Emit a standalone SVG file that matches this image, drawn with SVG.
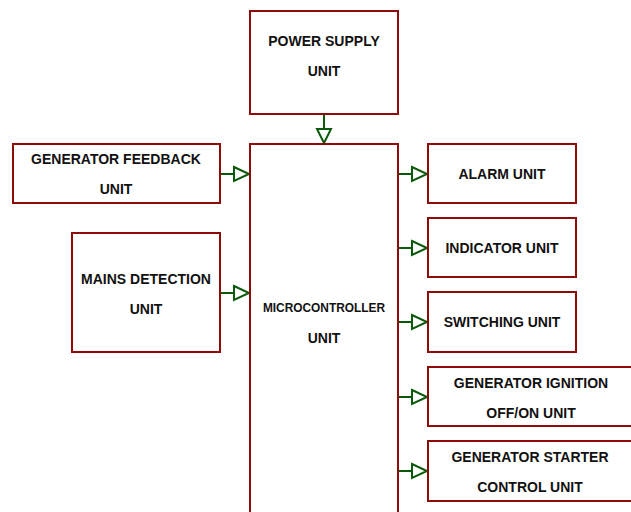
<svg xmlns="http://www.w3.org/2000/svg" width="631" height="512" viewBox="0 0 631 512">
<style>
.box{fill:#fff;stroke:#8e0b0b;stroke-width:2}
.t{font-family:"Liberation Sans",Arial,sans-serif;font-weight:bold;font-size:14px;fill:#111;text-anchor:middle}
.s{font-size:11.9px}
.w{fill:none;stroke:#0b5a0b;stroke-width:2}
.h{fill:#fff;stroke:#0b5a0b;stroke-width:2}
</style>
<rect width="631" height="512" fill="#fff"/>
<g id="connectors">
<line class="w" x1="324" y1="114" x2="324" y2="130"/><polygon class="h" points="317,129 331,129 324,143"/>
<line class="w" x1="220" y1="174" x2="234" y2="174"/><polygon class="h" points="234,167 249,174 234,181"/>
<line class="w" x1="220" y1="293" x2="234" y2="293"/><polygon class="h" points="234,286 249,293 234,300"/>
<line class="w" x1="398" y1="174" x2="412" y2="174"/><polygon class="h" points="412,167 427,174 412,181"/>
<line class="w" x1="398" y1="248" x2="412" y2="248"/><polygon class="h" points="412,241 427,248 412,255"/>
<line class="w" x1="398" y1="322" x2="412" y2="322"/><polygon class="h" points="412,315 427,322 412,329"/>
<line class="w" x1="398" y1="397" x2="412" y2="397"/><polygon class="h" points="412,390 427,397 412,404"/>
<line class="w" x1="398" y1="471" x2="412" y2="471"/><polygon class="h" points="412,464 427,471 412,478"/>
</g>
<g id="power"><rect class="box" x="250" y="11" width="148" height="103"/><text class="t" x="324" y="46">POWER SUPPLY</text><text class="t" x="324" y="76">UNIT</text></g>
<g id="mcu"><rect class="box" x="250" y="144" width="148" height="380"/><text class="t s" x="324" y="312">MICROCONTROLLER</text><text class="t" x="324" y="343">UNIT</text></g>
<g id="genfb"><rect class="box" x="13" y="144" width="207" height="59"/><text class="t" x="116" y="164">GENERATOR FEEDBACK</text><text class="t" x="116" y="194">UNIT</text></g>
<g id="mains"><rect class="box" x="72" y="233" width="148" height="119"/><text class="t" x="146" y="284">MAINS DETECTION</text><text class="t" x="146" y="314">UNIT</text></g>
<g id="alarm"><rect class="box" x="428" y="144" width="148" height="59"/><text class="t" x="502" y="179">ALARM UNIT</text></g>
<g id="indicator"><rect class="box" x="428" y="218" width="148" height="59"/><text class="t" x="502" y="253">INDICATOR UNIT</text></g>
<g id="switching"><rect class="box" x="428" y="292" width="148" height="60"/><text class="t" x="502" y="327">SWITCHING UNIT</text></g>
<g id="ignition"><rect class="box" x="428" y="367" width="220" height="59"/><text class="t" x="531" y="388">GENERATOR IGNITION</text><text class="t" x="531" y="418">OFF/ON UNIT</text></g>
<g id="starter"><rect class="box" x="428" y="441" width="220" height="60"/><text class="t" x="530" y="462">GENERATOR STARTER</text><text class="t" x="530" y="492">CONTROL UNIT</text></g>
</svg>
